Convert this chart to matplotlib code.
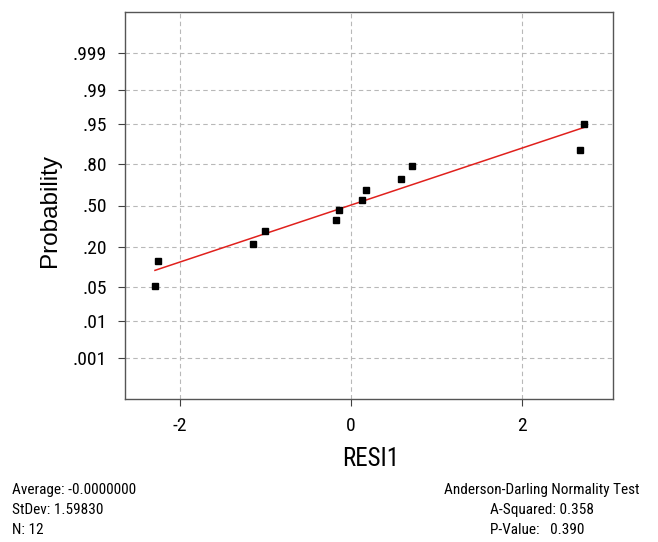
import numpy as np
import matplotlib.pyplot as plt
from statistics import NormalDist

# residuals (x) and their plotted probabilities (y)
resid = [-2.29, -2.25, -1.15, -1.00, -0.17, -0.14, 0.13, 0.18, 0.58, 0.71, 2.67, 2.72]
prob = [0.051, 0.133, 0.218, 0.300, 0.381, 0.465, 0.543, 0.624, 0.707, 0.787, 0.870, 0.951]

prob_ticks = [.001, .01, .05, .20, .50, .80, .95, .99, .999]
prob_labels = ['.001', '.01', '.05', '.20', '.50', '.80', '.95', '.99', '.999']
x_ticks = [-2, 0, 2]

stats_left = ['Average: -0.0000000', 'StDev: 1.59830', 'N: 12']
stats_title = 'Anderson-Darling Normality Test'
stats_right = ['A-Squared: 0.358', 'P-Value:   0.390']

plt.rcParams['font.family'] = ['Roboto Condensed', 'Liberation Sans', 'DejaVu Sans']

W, H = 658, 542
nd = NormalDist()
z = np.array([nd.inv_cdf(p) for p in prob])
z_ticks = [nd.inv_cdf(p) for p in prob_ticks]
x = np.array(resid)

fig = plt.figure(figsize=(W / 100, H / 100), dpi=100)
ax = fig.add_axes([125 / W, 1 - 399 / H, 488 / W, 387 / H])

# grid
ax.set_axisbelow(True)
ax.grid(True, color='#b8b8b8', linestyle=(0, (4, 3)), linewidth=0.8)

# least squares line of probability score on residual
b, a = np.polyfit(x, z, 1)
xl = np.array([x.min(), x.max()])
ax.plot(xl, a + b * xl, color='#e0201c', linewidth=1.1)

ax.plot(x, z, 's', color='black', markersize=4.5)

ax.set_xlim(-2.64, 3.06)
ax.set_ylim(-3.91, 3.91)
ax.set_xticks(x_ticks)
ax.set_xticklabels([str(t) for t in x_ticks], fontsize=14)
ax.set_yticks(z_ticks)
ax.set_yticklabels(prob_labels, fontsize=14)
ax.tick_params(direction='out', length=5, color='#404040', pad=8)
for s in ax.spines.values():
    s.set_color('#555555')
    s.set_linewidth(1.0)

# axis titles
fig.text(371 / W, 1 - 459 / H, 'RESI1', fontsize=18, ha='center', va='center')
fig.text(50 / W, 1 - 210 / H, 'Probability', fontsize=17.5, rotation=90,
         ha='center', va='center', family=['Liberation Sans', 'DejaVu Sans'])

# summary stats under the plot
for i, t in enumerate(stats_left):
    fig.text(12 / W, 1 - (490 + 20 * i) / H, t, fontsize=11, va='center', ha='left')
fig.text(640 / W, 1 - 490 / H, stats_title, fontsize=11, va='center', ha='right')
for i, t in enumerate(stats_right):
    fig.text(490 / W, 1 - (510 + 20 * i) / H, t, fontsize=11, va='center', ha='left')

fig.savefig('out.png', dpi=100)
plt.close()
